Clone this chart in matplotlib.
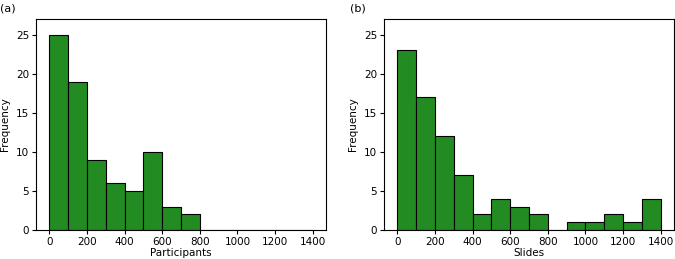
import numpy as np
import matplotlib
matplotlib.use("Agg")
import matplotlib.pyplot as plt

# bin edges (width 100) and counts
edges = np.arange(0, 1500, 100)
participants_counts = [25, 19, 9, 6, 5, 10, 3, 2, 0, 0, 0, 0, 0, 0]
slides_counts = [23, 17, 12, 7, 2, 4, 3, 2, 0, 1, 1, 2, 1, 4]

plt.rcParams['font.size'] = 7.5

fig = plt.figure(figsize=(6.75, 2.59), dpi=100)
ax1 = fig.add_axes([36/675, 1 - 230/259, 290/675, 211/259])
ax2 = fig.add_axes([384/675, 1 - 230/259, 290/675, 211/259])

centers = edges[:-1] + 50
for ax, counts, xlabel, tag in [(ax1, participants_counts, "Participants", "(a)"),
                                (ax2, slides_counts, "Slides", "(b)")]:
    ax.hist(centers, bins=edges, weights=counts, color="forestgreen", edgecolor="black", linewidth=0.8)
    ax.set_xlim(-70, 1470)
    ax.set_ylim(0, 27)
    ax.set_xticks(np.arange(0, 1600, 200))
    ax.set_yticks([0, 5, 10, 15, 20, 25])
    ax.set_xlabel(xlabel, labelpad=1)
    ax.set_ylabel("Frequency")
    ax.tick_params(length=3, pad=2)

fig.text(0.0, 0.985, "(a)", ha="left", va="top", fontsize=8)
fig.text(350/675, 0.985, "(b)", ha="left", va="top", fontsize=8)

fig.savefig("out.png", dpi=100)
